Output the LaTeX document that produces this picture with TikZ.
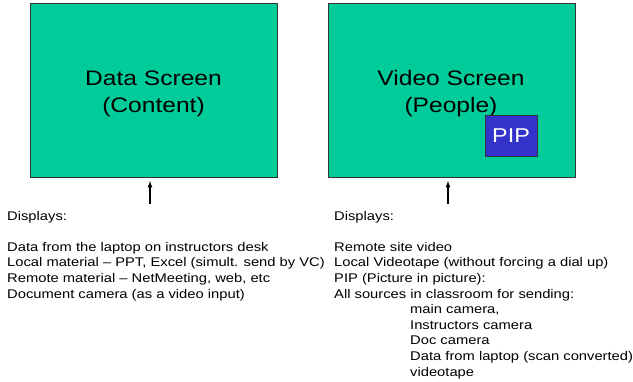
\documentclass[tikz,border=0pt]{standalone}
\usepackage{fontspec}
\setmainfont{Liberation Sans}[FakeStretch=1.17]
\usetikzlibrary{arrows, shapes, positioning}

\definecolor{screengreen}{HTML}{00CC99}
\definecolor{pipblue}{HTML}{3333CC}
\definecolor{rim}{HTML}{333333}

\tikzset{
  screen/.style={draw=rim, line width=1pt, fill=screengreen, inner sep=0pt,
    minimum width=247pt, minimum height=174pt},
  title/.style={align=center, inner sep=0pt, font=\fontsize{21}{27}\selectfont},
  pip/.style={draw=rim, line width=1pt, fill=pipblue, text=white, inner sep=0pt,
    minimum width=52pt, minimum height=41pt, font=\fontsize{20}{22}\selectfont},
  notes/.style={align=left, anchor=north west, inner sep=0pt,
    font=\fontsize{12.6}{15.6}\selectfont},
  feed/.style={-latex, line width=1.2pt}
}

\begin{document}
\begin{tikzpicture}[x=1pt, y=-1pt]
      \useasboundingbox (0,0) rectangle (633,381);

      % Nodes
      \node[screen] (data) at (153.5, 90) {};
      \node[screen] (video) at (451.5, 90) {};
      \node[title] (dtitle) at (153.5, 94) {Data Screen\\(Content)};
      \node[title] (vtitle) at (451, 94) {Video Screen\\(People)};
      \node[pip] (pip) at (511, 135.5) {PIP};

      \node[notes] (dnotes) at (7, 210.8) {Displays:\\[15.6pt]
        Data from the laptop on instructors desk\\
        Local material -- PPT, Excel (simult. send by VC)\\
        Remote material -- NetMeeting, web, etc\\
        Document camera (as a video input)};
      \node[notes] (vnotes) at (334, 210.8) {Displays:\\[15.6pt]
        Remote site video\\
        Local Videotape (without forcing a dial up)\\
        PIP (Picture in picture):\\
        All sources in classroom for sending:\\
        \hspace*{76pt}main camera,\\
        \hspace*{76pt}Instructors camera\\
        \hspace*{76pt}Doc camera\\
        \hspace*{76pt}Data from laptop (scan converted)\\
        \hspace*{76pt}videotape};

      \coordinate (dtail) at (150, 204);
      \coordinate (dhead) at (150, 181);
      \coordinate (vtail) at (448, 204);
      \coordinate (vhead) at (448, 181);

      % Edges
      \path[feed] (dtail) edge (dhead)
                  (vtail) edge (vhead);

    \end{tikzpicture}
\end{document}
